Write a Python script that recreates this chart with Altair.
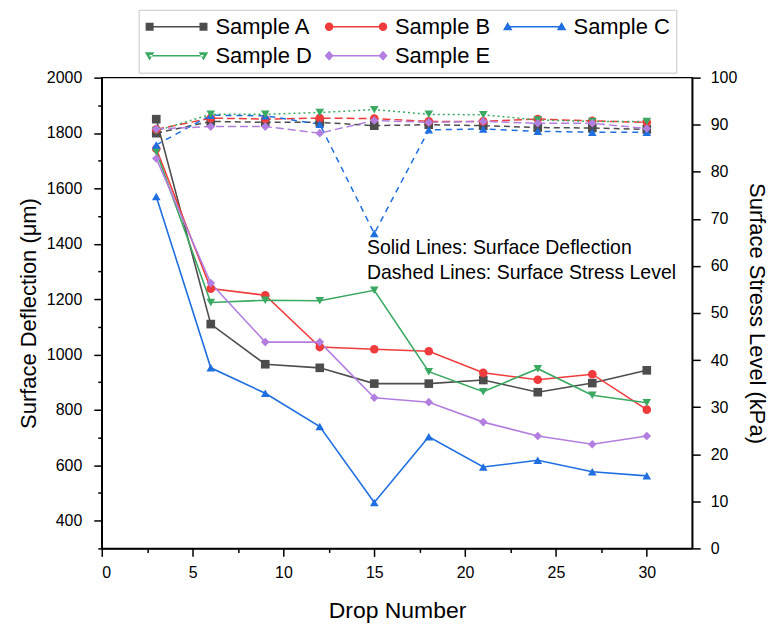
import altair as alt
import pandas as pd

# ---------------- data ----------------
drops = [3, 6, 9, 12, 15, 18, 21, 24, 27, 30]
samples = ["Sample A", "Sample B", "Sample C", "Sample D", "Sample E"]

# Surface deflection (um) - solid lines, left axis
defl_A = [1850, 1110, 965, 952, 895, 895, 908, 864, 897, 943]
defl_B = [1743, 1238, 1214, 1027, 1019, 1012, 934, 909, 929, 801]
defl_C = [1571, 952, 860, 740, 466, 703, 594, 618, 577, 562]
defl_D = [1732, 1188, 1196, 1194, 1232, 938, 866, 949, 853, 826]
defl_E = [1708, 1258, 1045, 1045, 844, 828, 756, 706, 676, 706]

# Surface stress level (kPa) - dashed lines, right axis
stress_A = [88.2, 90.7, 90.5, 90.5, 89.8, 90.0, 89.8, 89.4, 89.3, 89.0]
stress_B = [89.0, 91.4, 91.2, 91.4, 91.3, 90.7, 90.7, 91.2, 90.8, 90.5]
stress_C = [85.7, 92.0, 91.9, 90.1, 66.9, 88.9, 89.1, 88.6, 88.4, 88.4]
stress_D = [88.7, 92.2, 92.2, 92.6, 93.2, 92.2, 92.1, 91.0, 90.7, 90.7]
stress_E = [89.1, 89.6, 89.6, 88.2, 90.9, 90.5, 90.7, 90.3, 90.3, 89.2]

annot_labels = ["Solid Lines: Surface Deflection", "Dashed Lines: Surface Stress Level"]
annot_x = [14.6, 14.6]
annot_y = [1385, 1296]

x_ticks = [0, 5, 10, 15, 20, 25, 30]
x_minor = [2.5, 7.5, 12.5, 17.5, 22.5, 27.5]
yl_ticks = [400, 600, 800, 1000, 1200, 1400, 1600, 1800, 2000]
yl_minor = [300, 500, 700, 900, 1100, 1300, 1500, 1700, 1900]
yr_ticks = [0, 10, 20, 30, 40, 50, 60, 70, 80, 90, 100]

# ---------------- styles ----------------
colors = ["#4d4d4d", "#ef3b3b", "#1f6fe0", "#3aa962", "#b27fe0"]
shapes = ["square", "circle", "triangle-up", "triangle-down", "diamond"]
dashes = [[6, 4], [8, 4], [6, 5], [2, 3], [8, 4]]
FONT = "Liberation Sans"


def marker_path(kind, c):
    if kind == "square":
        return f"M{c-0.8},-0.8H{c+0.8}V0.8H{c-0.8}Z"
    if kind == "circle":
        return f"M{c+0.85},0A0.85,0.85 0 1 1 {c-0.85},0A0.85,0.85 0 1 1 {c+0.85},0Z"
    if kind == "triangle-up":
        return f"M{c},-0.95L{c+0.95},0.7L{c-0.95},0.7Z"
    if kind == "triangle-down":
        return f"M{c},0.95L{c+0.95},-0.7L{c-0.95},-0.7Z"
    return f"M{c},-1L{c+0.9},0L{c},1L{c-0.9},0Z"


legend_paths = [
    "M-5.4,-0.15H5.4V0.15H-5.4Z " + marker_path(k, -5.4) + " " + marker_path(k, 5.4)
    for k in shapes
]

# ---------------- tables ----------------
defl_series = [defl_A, defl_B, defl_C, defl_D, defl_E]
stress_series = [stress_A, stress_B, stress_C, stress_D, stress_E]

defl_df = pd.DataFrame(
    [{"drop": d, "value": v, "series": s}
     for s, vals in zip(samples, defl_series) for d, v in zip(drops, vals)]
)
stress_df = pd.DataFrame(
    [{"drop": d, "value": v, "series": s}
     for s, vals in zip(samples, stress_series) for d, v in zip(drops, vals)]
)
annot_df = pd.DataFrame({"drop": annot_x, "value": annot_y, "label": annot_labels})

# ---------------- scales / axes ----------------
x_scale = alt.Scale(domain=[0, 32.5], nice=False, zero=False)
yl_scale = alt.Scale(domain=[300, 2000], nice=False, zero=False)
yr_scale = alt.Scale(domain=[0, 100], nice=False, zero=False)
color_scale = alt.Scale(domain=samples, range=colors)
shape_scale = alt.Scale(domain=samples, range=shapes)
dash_scale = alt.Scale(domain=samples, range=dashes)

x_axis = alt.Axis(orient="bottom", values=x_ticks, format="d", title="Drop Number",
                  titleFontSize=23, titlePadding=19, tickSize=8, labelPadding=8)
x_axis_minor = alt.Axis(orient="bottom", values=x_minor, labels=False, domain=False,
                        title=None, tickSize=4)
yl_axis = alt.Axis(orient="left", values=yl_ticks, format="d",
                   title="Surface Deflection (μm)", titlePadding=6, tickSize=8,
                   labelPadding=12)
yl_axis_minor = alt.Axis(orient="left", values=yl_minor, labels=False, domain=False,
                         title=None, tickSize=4)
yr_axis = alt.Axis(orient="right", values=yr_ticks, format="d",
                   title="Surface Stress Level (kPa)", titlePadding=8, tickSize=8,
                   labelPadding=10)

# ---------------- left layer (deflection) ----------------
solid_lines = alt.Chart(defl_df).mark_line(strokeWidth=1.6).encode(
    x=alt.X("drop:Q", scale=x_scale, axis=x_axis),
    y=alt.Y("value:Q", scale=yl_scale, axis=yl_axis),
    color=alt.Color("series:N", scale=color_scale, legend=None),
    order=alt.Order("drop:Q"),
)
solid_pts = alt.Chart(defl_df).mark_point(filled=True, opacity=1, size=75).encode(
    x=alt.X("drop:Q", scale=x_scale, axis=x_axis),
    y=alt.Y("value:Q", scale=yl_scale, axis=yl_axis),
    color=alt.Color("series:N", scale=color_scale, legend=None),
    shape=alt.Shape("series:N", scale=shape_scale, legend=None),
)
annot = alt.Chart(annot_df).mark_text(
    align="left", baseline="middle", font=FONT, fontSize=19.5, color="black"
).encode(
    x=alt.X("drop:Q", scale=x_scale, axis=x_axis),
    y=alt.Y("value:Q", scale=yl_scale, axis=yl_axis),
    text="label:N",
)
left = alt.layer(solid_lines, solid_pts, annot)

# ---------------- right layer (stress) ----------------
dash_lines = alt.Chart(stress_df).mark_line(strokeWidth=1.5).encode(
    x=alt.X("drop:Q", scale=x_scale, axis=None),
    y=alt.Y("value:Q", scale=yr_scale, axis=yr_axis),
    color=alt.Color("series:N", scale=color_scale, legend=None),
    strokeDash=alt.StrokeDash("series:N", scale=dash_scale, legend=None),
    order=alt.Order("drop:Q"),
)
dash_pts = alt.Chart(stress_df).mark_point(filled=True, opacity=1, size=75).encode(
    x=alt.X("drop:Q", scale=x_scale, axis=None),
    y=alt.Y("value:Q", scale=yr_scale, axis=yr_axis),
    color=alt.Color("series:N", scale=color_scale, legend=None),
    shape=alt.Shape("series:N", scale=shape_scale, legend=None),
)
right = alt.layer(dash_lines, dash_pts)

# ---------------- legend + minor ticks layer ----------------
legend = alt.Legend(
    title=None, orient="none", legendX=37, legendY=-68, columns=3,
    direction="horizontal",
    labelFont=FONT, labelFontSize=22, labelColor="black",
    symbolSize=100, symbolStrokeWidth=0, symbolOpacity=1,
    symbolOffset=21, labelOffset=28, columnPadding=12, rowPadding=7,
    padding=6, strokeColor="#c8c8c8", fillColor="white",
)
leg = alt.Chart(defl_df).transform_filter("false").mark_point(filled=True, opacity=1).encode(
    x=alt.X("drop:Q", scale=x_scale, axis=x_axis_minor),
    y=alt.Y("value:Q", scale=yl_scale, axis=yl_axis_minor),
    color=alt.Color("series:N", scale=color_scale, legend=legend),
    shape=alt.Shape("series:N", scale=alt.Scale(domain=samples, range=legend_paths),
                    legend=legend),
)

chart = (
    alt.layer(left, right, leg)
    .resolve_scale(x="independent", y="independent", color="independent",
                   shape="independent", strokeDash="independent")
    .properties(width=592, height=472, padding={"left": 9, "top": 0, "right": 2, "bottom": 0})
    .configure_axis(
        labelFont=FONT, titleFont=FONT, labelFontSize=16, titleFontSize=22,
        titleFontWeight="normal", labelColor="black", titleColor="black",
        domainColor="black", tickColor="black", domainWidth=1.5, tickWidth=1.5,
        grid=False,
    )
    .configure_view(stroke="black", strokeWidth=1.5)
)

chart.save("out.html", embed_options={"renderer": "svg", "actions": False})
